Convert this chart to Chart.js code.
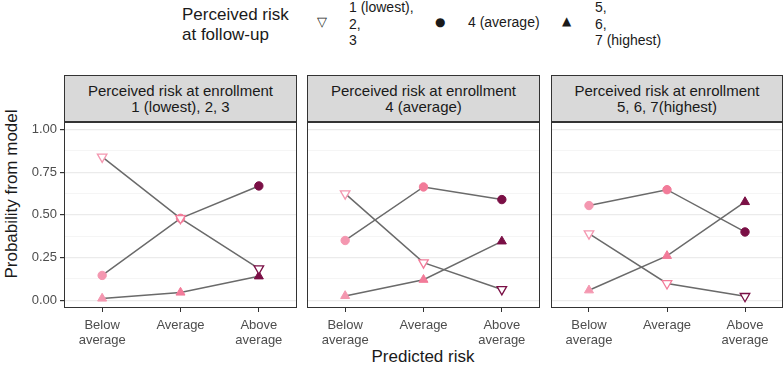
<!DOCTYPE html>
<html>
<head>
<meta charset="utf-8">
<script src="https://cdn.jsdelivr.net/npm/chart.js@4"></script>
<style>
 body{margin:0;width:784px;height:369px;background:#fff;position:relative;overflow:hidden;font-family:"Liberation Sans",Arial,sans-serif;color:#1a1a1a}
 .abs{position:absolute;white-space:nowrap}
 .strip{position:absolute;top:75px;height:47px;background:#d9d9d9;border:1px solid #333;box-sizing:border-box;text-align:center;font-size:15px;line-height:16px;padding-top:7px;color:#1a1a1a}
 canvas{position:absolute}
 .leg{font-size:14px;line-height:16.5px}
 .sym{position:absolute;font-family:"DejaVu Sans",sans-serif;line-height:14px}
</style>
</head>
<body>
<div class="abs" style="left:182px;top:5px;font-size:17px;line-height:20px">Perceived risk<br>at follow-up</div>
<div class="sym" style="left:317px;top:15px;font-size:13px">▽</div>
<div class="abs leg" style="left:349px;top:-1px">1 (lowest),<br>2,<br>3</div>
<div class="sym" style="left:435px;top:15px;font-size:12px">●</div>
<div class="abs leg" style="left:468px;top:14px">4 (average)</div>
<div class="sym" style="left:562px;top:14px;font-size:12px">▲</div>
<div class="abs leg" style="left:595px;top:-1px">5,<br>6,<br>7 (highest)</div>

<div class="strip" style="left:64px;width:233px">Perceived risk at enrollment<br>1 (lowest), 2, 3</div>
<div class="strip" style="left:307px;width:233px">Perceived risk at enrollment<br>4 (average)</div>
<div class="strip" style="left:551px;width:232px">Perceived risk at enrollment<br>5, 6, 7(highest)</div>

<div class="abs" style="left:-113px;top:184px;width:250px;text-align:center;transform:rotate(-90deg);font-size:17px;line-height:20px">Probability from model</div>
<div class="abs" style="left:323px;top:347px;width:200px;text-align:center;font-size:17px;line-height:20px">Predicted risk</div>

<canvas id="p1"></canvas>
<canvas id="p2"></canvas>
<canvas id="p3"></canvas>

<script>
// predicted risk categories
const categories = ['Below average', 'Average', 'Above average'];
const yTicks = [0, 0.25, 0.5, 0.75, 1];

// perceived risk at enrollment 1,2,3
const p1Low = [0.84, 0.48, 0.185];
const p1Avg = [0.145, 0.48, 0.67];
const p1High = [0.01, 0.045, 0.14];
// perceived risk at enrollment 4
const p2Low = [0.625, 0.22, 0.063];
const p2Avg = [0.35, 0.664, 0.59];
const p2High = [0.025, 0.12, 0.345];
// perceived risk at enrollment 5,6,7
const p3Low = [0.39, 0.098, 0.023];
const p3Avg = [0.555, 0.648, 0.40];
const p3High = [0.058, 0.26, 0.576];

const xColors = ['#F497B0', '#F27B99', '#7A0F45'];
const lineCol = '#6a6a6a';
const fontFam = '"Liberation Sans",Arial,sans-serif';

const borderPlugin = {
  id: 'panelBorder',
  afterDraw(chart) {
    const a = chart.chartArea, c = chart.ctx;
    c.save();
    c.strokeStyle = '#333';
    c.lineWidth = 1;
    c.strokeRect(Math.round(a.left) + 0.5, Math.round(a.top) + 0.5, Math.round(a.right - a.left) - 1, Math.round(a.bottom - a.top) - 1);
    c.restore();
  }
};

function pts(vals) {
  return vals.map((v, i) => ({x: i + 1, y: v}));
}

function makePanel(id, left, width, showY, series) {
  const cv = document.getElementById(id);
  cv.style.left = left + 'px';
  cv.style.top = '121px';
  cv.width = width;
  cv.height = 226;
  const ds = [];
  const shapes = [
    {style: 'triangle', rot: 180, hollow: true, r: 5.5},
    {style: 'circle', rot: 0, hollow: false, r: 4.2},
    {style: 'triangle', rot: 0, hollow: false, r: 5.2}
  ];
  series.forEach(vals => {
    ds.push({data: pts(vals), showLine: true, borderColor: lineCol, borderWidth: 1.5, pointRadius: 0, order: 2});
  });
  series.forEach((vals, k) => {
    const s = shapes[k];
    ds.push({
      data: pts(vals), showLine: false, order: 1,
      pointStyle: s.style, rotation: s.rot, pointRadius: s.r,
      pointBackgroundColor: s.hollow ? '#fff' : xColors,
      pointBorderColor: xColors, pointBorderWidth: s.hollow ? 1.3 : 1
    });
  });
  new Chart(cv, {
    type: 'scatter',
    data: {datasets: ds},
    plugins: [borderPlugin],
    options: {
      responsive: false, animation: false,
      layout: {padding: {top: 1, left: 0, right: 0, bottom: 0}, autoPadding: false},
      plugins: {legend: {display: false}, tooltip: {enabled: false}},
      scales: {
        x: {
          type: 'linear', min: 0.513, max: 3.487,
          afterBuildTicks: s => { s.ticks = [1, 2, 3].map(v => ({value: v})); },
          afterFit: s => { s.height = 39; s.paddingLeft = 0; s.paddingRight = 0; },
          grid: {drawOnChartArea: false, drawTicks: true, tickLength: 4, tickColor: '#333'},
          border: {display: false},
          ticks: {
            color: '#4d4d4d', padding: 5, maxRotation: 0, autoSkip: false,
            font: {size: 13, family: fontFam, lineHeight: 1.22},
            callback: v => { const c = categories[v - 1]; return c === 'Average' ? c : c.split(' '); }
          }
        },
        y: {
          min: -0.046, max: 1.045,
          afterBuildTicks: s => { const t = []; for (let i = 0; i <= 8; i++) t.push({value: i * 0.125}); s.ticks = t; },
          afterFit: s => { s.width = showY ? 64 : 0; s.paddingTop = 0; s.paddingBottom = 0; },
          grid: {
            color: c => (c.tick && yTicks.includes(c.tick.value)) ? '#ebebeb' : '#f3f3f3',
            lineWidth: c => (c.tick && yTicks.includes(c.tick.value)) ? 1.2 : 0.8,
            drawTicks: showY, tickLength: 4,
            tickColor: c => (c.tick && yTicks.includes(c.tick.value)) ? '#333' : 'rgba(0,0,0,0)'
          },
          border: {display: false},
          ticks: {
            display: showY, color: '#4d4d4d', padding: 3,
            font: {size: 13, family: fontFam},
            callback: v => yTicks.includes(v) ? v.toFixed(2) : ''
          }
        }
      }
    }
  });
}

makePanel('p1', 0, 297, true, [p1Low, p1Avg, p1High]);
makePanel('p2', 307, 233, false, [p2Low, p2Avg, p2High]);
makePanel('p3', 551, 232, false, [p3Low, p3Avg, p3High]);
</script>
</body>
</html>
